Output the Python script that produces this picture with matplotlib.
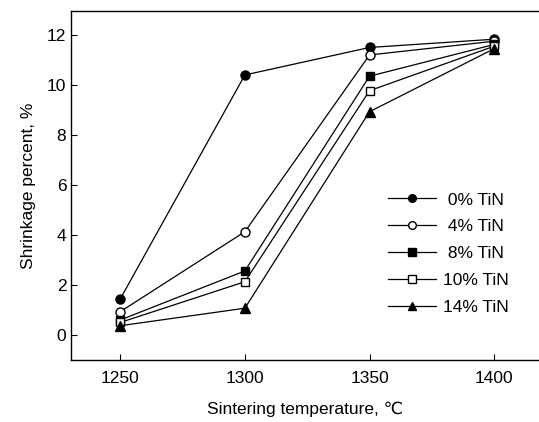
import matplotlib
matplotlib.use("Agg")
import matplotlib.pyplot as plt

plt.rcParams['font.family'] = ['Liberation Sans', 'DejaVu Sans']

temps = [1250, 1300, 1350, 1400]
tin_0 = [1.44, 10.4, 11.5, 11.83]
tin_4 = [0.93, 4.13, 11.2, 11.75]
tin_8 = [0.6, 2.56, 10.35, 11.62]
tin_10 = [0.5, 2.13, 9.77, 11.55]
tin_14 = [0.37, 1.07, 8.93, 11.45]

labels = [" 0% TiN", " 4% TiN", " 8% TiN", "10% TiN", "14% TiN"]

fig = plt.figure(figsize=(5.39, 4.22), dpi=100)
ax = fig.add_axes([0.132, 0.147, 0.868, 0.827])

ms = 6.5
ax.plot(temps, tin_0, '-o', color='black', mfc='black', ms=ms, lw=0.9, label=labels[0])
ax.plot(temps, tin_4, '-o', color='black', mfc='white', ms=ms, lw=0.9, label=labels[1])
ax.plot(temps, tin_8, '-s', color='black', mfc='black', ms=ms - 0.5, lw=0.9, label=labels[2])
ax.plot(temps, tin_10, '-s', color='black', mfc='white', ms=ms - 0.5, lw=0.9, label=labels[3])
ax.plot(temps, tin_14, '-^', color='black', mfc='black', ms=ms + 0.5, lw=0.9, label=labels[4])

ax.set_xlim(1230.3, 1418)
ax.set_ylim(-1.0, 12.96)
ax.set_xticks([1250, 1300, 1350, 1400])
ax.set_yticks([0, 2, 4, 6, 8, 10, 12])
ax.tick_params(direction='in', length=4, width=0.8, labelsize=12.5)
ax.tick_params(axis='x', pad=8)
ax.spines['right'].set_visible(False)
for s in ['left', 'bottom', 'top']:
    ax.spines[s].set_linewidth(1.0)

ax.set_xlabel("Sintering temperature, \u2103", fontsize=12.5, labelpad=11)
ax.set_ylabel("Shrinkage percent, %", fontsize=12.5, labelpad=8)

ax.legend(loc='center left', bbox_to_anchor=(0.677, 0.304), frameon=False,
          fontsize=12.5, handlelength=2.8, handletextpad=0.35, labelspacing=0.68,
          markerscale=0.85, borderpad=0, borderaxespad=0)

fig.savefig("out.png", dpi=100)
